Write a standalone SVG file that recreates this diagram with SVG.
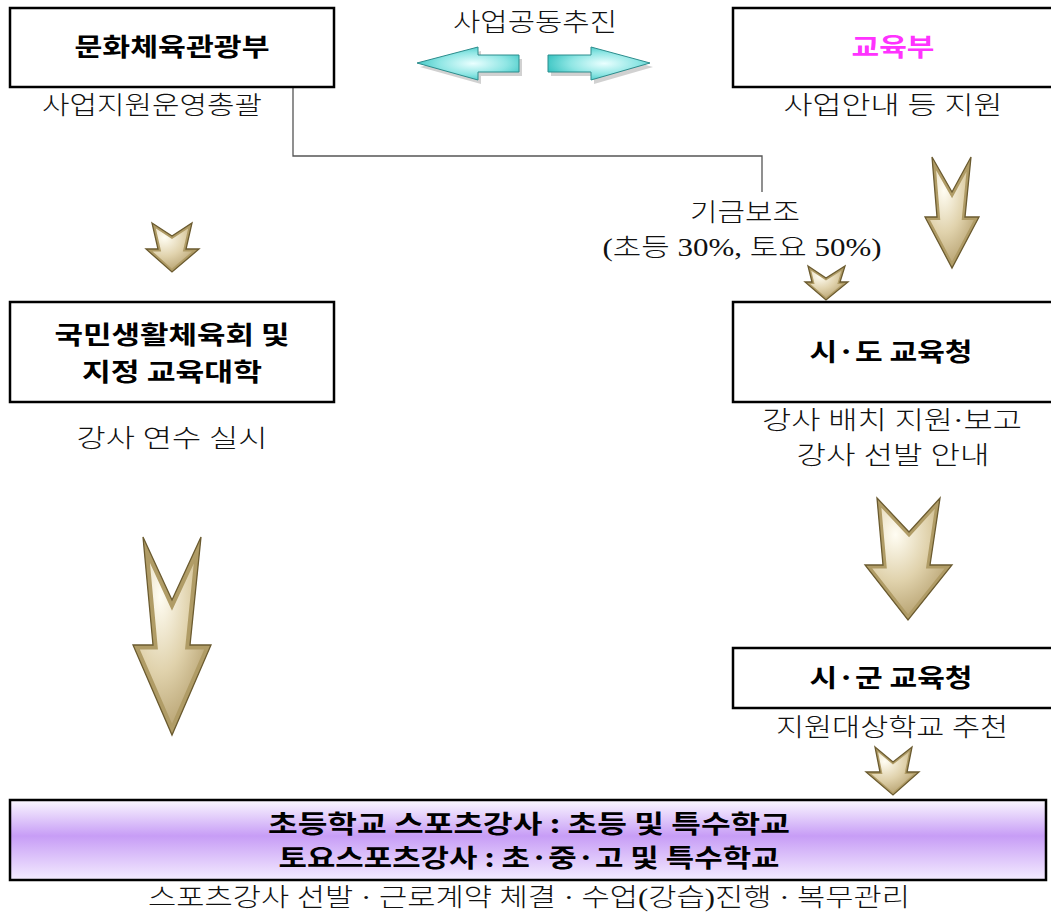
<svg xmlns="http://www.w3.org/2000/svg" xmlns:xlink="http://www.w3.org/1999/xlink" width="1051" height="917" viewBox="0 0 1051 917">
<style>
.box{fill:#fff;stroke:#000;stroke-width:2.5}
.lbl{font-family:"Noto Sans CJK KR","Liberation Sans",sans-serif;font-weight:bold;font-size:25px;fill:#000;text-anchor:middle}
.sub{font-family:"Liberation Serif","Noto Sans CJK KR",serif;font-weight:300;font-size:25px;fill:#111;text-anchor:middle}
.conn{fill:none;stroke:#555;stroke-width:1.3}
.gold{fill:url(#goldG)}
.goldband{fill:none;stroke:#B09C66;stroke-width:7}
.goldedge{fill:none;stroke:#6B5B30;stroke-width:1.3}
.teal{fill:url(#tealG);stroke:#2C8C8C;stroke-width:1}
.tshadow{fill:#9a9a9a;opacity:0.45}
</style>
<defs>
<radialGradient id="goldG" cx="0.35" cy="0.3" r="0.85">
<stop offset="0" stop-color="#FFFDF3"/>
<stop offset="0.45" stop-color="#E0D2AC"/>
<stop offset="1" stop-color="#A48C56"/>
</radialGradient>
<radialGradient id="tealG" cx="0.55" cy="0.5" r="0.6">
<stop offset="0" stop-color="#EAFFFF"/>
<stop offset="0.55" stop-color="#8FE6E4"/>
<stop offset="1" stop-color="#34C2C0"/>
</radialGradient>
<linearGradient id="purpG" x1="0" y1="0" x2="0" y2="1">
<stop offset="0" stop-color="#FBF8FF"/>
<stop offset="0.45" stop-color="#C79DF6"/>
<stop offset="1" stop-color="#F4ECFF"/>
</linearGradient>
<polygon id="a1" points="152,223 172,236 192,223 186,249 199,249 172,272 146,249 158,249"/>
<polygon id="a2" points="932,157 952,192 971,157 965,217 979,217 952,268 925,217 937,217"/>
<polygon id="a3" points="143,537 172,600 201,537 190,645 211,645 172,735 133,645 153,645"/>
<polygon id="a4" points="877,498 909,532 940,498 930,565 952,565 908,620 865,565 883,565"/>
<polygon id="a5" points="875,747 893,762 912,747 907,772 919,772 893,795 866,772 880,772"/>
<polygon id="a6" points="808,266 826,278 845,266 840,282 848,282 826,300 805,282 812,282"/>
<clipPath id="c1"><use xlink:href="#a1"/></clipPath>
<clipPath id="c2"><use xlink:href="#a2"/></clipPath>
<clipPath id="c3"><use xlink:href="#a3"/></clipPath>
<clipPath id="c4"><use xlink:href="#a4"/></clipPath>
<clipPath id="c5"><use xlink:href="#a5"/></clipPath>
<clipPath id="c6"><use xlink:href="#a6"/></clipPath>
</defs>
<rect width="1051" height="917" fill="#fff"/>

<g id="connectors">
<polyline class="conn" points="293,87 293,156 762,156 762,192"/>
<g id="arrow-left-teal">
<polygon class="tshadow" points="420,67 481,51 481,59 522,59 522,76 481,76 481,84"/>
<polygon class="teal" points="417,63 478,47 478,55 519,55 519,72 478,72 478,80"/>
</g>
<g id="arrow-right-teal">
<polygon class="tshadow" points="551,59 594,59 594,51 653,67 594,84 594,76 551,76"/>
<polygon class="teal" points="548,55 591,55 591,47 650,63 591,80 591,72 548,72"/>
</g>
<g id="down1"><use xlink:href="#a1" class="gold"/><use xlink:href="#a1" class="goldband" clip-path="url(#c1)" style="stroke-width:5"/><use xlink:href="#a1" class="goldedge"/></g>
<g id="down2"><use xlink:href="#a2" class="gold"/><use xlink:href="#a2" class="goldband" clip-path="url(#c2)" style="stroke-width:6"/><use xlink:href="#a2" class="goldedge"/></g>
<g id="down3"><use xlink:href="#a3" class="gold"/><use xlink:href="#a3" class="goldband" clip-path="url(#c3)" style="stroke-width:9"/><use xlink:href="#a3" class="goldedge"/></g>
<g id="down4"><use xlink:href="#a4" class="gold"/><use xlink:href="#a4" class="goldband" clip-path="url(#c4)" style="stroke-width:7"/><use xlink:href="#a4" class="goldedge"/></g>
<g id="down5"><use xlink:href="#a5" class="gold"/><use xlink:href="#a5" class="goldband" clip-path="url(#c5)" style="stroke-width:4"/><use xlink:href="#a5" class="goldedge"/></g>
<g id="down6"><use xlink:href="#a6" class="gold"/><use xlink:href="#a6" class="goldband" clip-path="url(#c6)" style="stroke-width:4"/><use xlink:href="#a6" class="goldedge"/></g>
</g>

<text class="sub" x="535" y="31" textLength="164" lengthAdjust="spacingAndGlyphs">사업공동추진</text>
<text class="sub" x="745" y="221" textLength="110" lengthAdjust="spacingAndGlyphs">기금보조</text>
<text class="sub" x="742" y="256" textLength="279" lengthAdjust="spacingAndGlyphs">(초등 30%, 토요 50%)</text>

<g id="node-mcst">
<rect class="box" x="10" y="8" width="324" height="79"/>
<text class="lbl" x="172" y="56" textLength="195" lengthAdjust="spacingAndGlyphs">문화체육관광부</text>
<text class="sub" x="152" y="114" textLength="220" lengthAdjust="spacingAndGlyphs">사업지원운영총괄</text>
</g>

<g id="node-moe">
<rect class="box" x="733" y="8" width="330" height="79"/>
<text class="lbl" x="893" y="56" style="fill:#FF33FF" textLength="83" lengthAdjust="spacingAndGlyphs">교육부</text>
<text class="sub" x="893" y="114" textLength="219" lengthAdjust="spacingAndGlyphs">사업안내 등 지원</text>
</g>

<g id="node-ksf">
<rect class="box" x="10" y="302" width="324" height="100"/>
<text class="lbl" x="172" y="344" textLength="235" lengthAdjust="spacingAndGlyphs">국민생활체육회 및</text>
<text class="lbl" x="172" y="381" textLength="180" lengthAdjust="spacingAndGlyphs">지정 교육대학</text>
<text class="sub" x="172" y="447" textLength="191" lengthAdjust="spacingAndGlyphs">강사 연수 실시</text>
</g>

<g id="node-sido">
<rect class="box" x="733" y="302" width="330" height="100"/>
<text class="lbl" x="891" y="361" textLength="163" lengthAdjust="spacingAndGlyphs">시·도 교육청</text>
<text class="sub" x="892" y="429" textLength="260" lengthAdjust="spacingAndGlyphs">강사 배치 지원·보고</text>
<text class="sub" x="893" y="464" textLength="193" lengthAdjust="spacingAndGlyphs">강사 선발 안내</text>
</g>

<g id="node-sigun">
<rect class="box" x="733" y="648" width="330" height="60"/>
<text class="lbl" x="891" y="687" textLength="163" lengthAdjust="spacingAndGlyphs">시·군 교육청</text>
<text class="sub" x="892" y="736" textLength="232" lengthAdjust="spacingAndGlyphs">지원대상학교 추천</text>
</g>

<g id="node-school">
<rect x="10" y="800" width="1036" height="80" fill="url(#purpG)" stroke="#000" stroke-width="2.5"/>
<text class="lbl" x="529" y="833" textLength="522" lengthAdjust="spacingAndGlyphs">초등학교 스포츠강사 : 초등 및 특수학교</text>
<text class="lbl" x="529" y="867" textLength="501" lengthAdjust="spacingAndGlyphs">토요스포츠강사 : 초·중·고 및 특수학교</text>
<text class="sub" x="529" y="906" textLength="762" lengthAdjust="spacingAndGlyphs">스포츠강사 선발 · 근로계약 체결 · 수업(강습)진행 · 복무관리</text>
</g>
</svg>
